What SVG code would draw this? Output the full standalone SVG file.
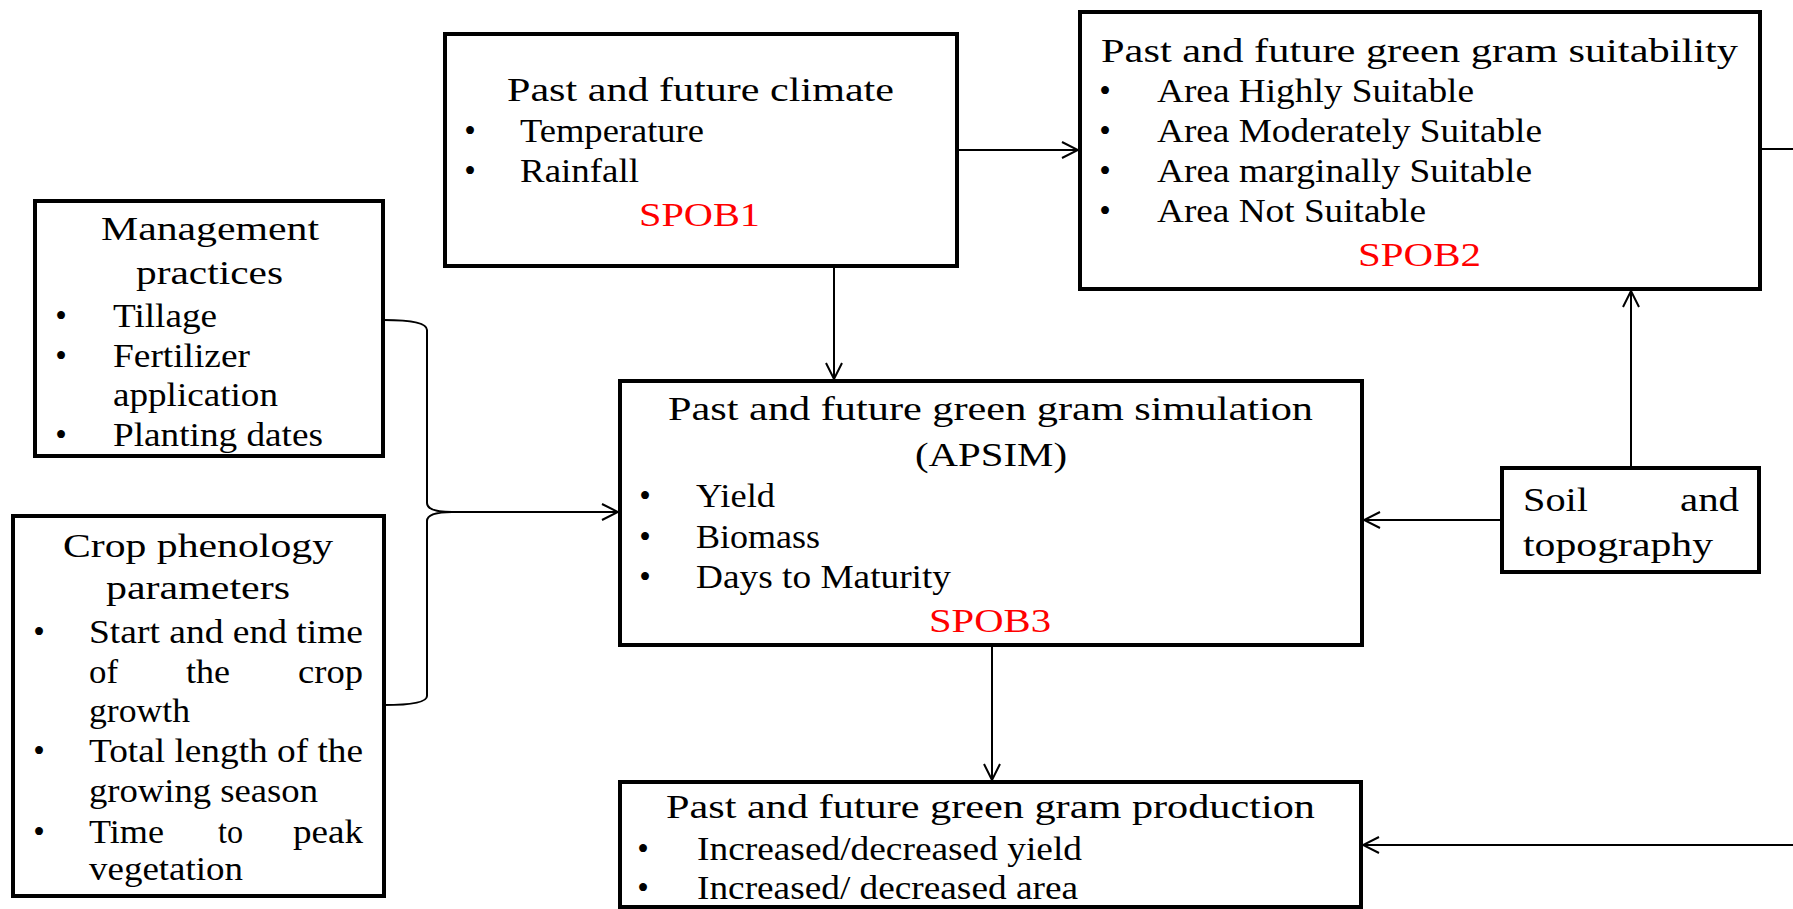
<svg xmlns="http://www.w3.org/2000/svg" width="1793" height="909" viewBox="0 0 1793 909">
<style>
.box{fill:#fff;stroke:#000;stroke-width:4}
.c{fill:none;stroke:#000;stroke-width:2}
text{font-family:"Liberation Serif","Times New Roman",serif;font-size:33px;fill:#000}
.t{font-size:34px}
.r{fill:#f00;font-size:34px}
.b{text-anchor:middle}
.e{text-anchor:end}
</style>
<defs>
<marker id="ah" viewBox="-18 -10 20 20" refX="0" refY="0" markerWidth="20" markerHeight="20" markerUnits="userSpaceOnUse" orient="auto">
<path d="M-16,-8 L0,0 L-16,8" fill="none" stroke="#000" stroke-width="2"/>
</marker>
</defs>
<rect width="1793" height="909" fill="#fff"/>
<g id="connectors">
<path class="c" d="M957,150 L1078,150" marker-end="url(#ah)"/>
<path class="c" d="M834,266 L834,379" marker-end="url(#ah)"/>
<path class="c" d="M384,320 Q427,320 427,330 L427,503 Q427,512 452,512 Q427,512 427,521 L427,696 Q427,705 384,705"/>
<path class="c" d="M440,512 L618,512" marker-end="url(#ah)"/>
<path class="c" d="M1631,468 L1631,291" marker-end="url(#ah)"/>
<path class="c" d="M1502,520 L1364,520" marker-end="url(#ah)"/>
<path class="c" d="M992,645 L992,780" marker-end="url(#ah)"/>
<path class="c" d="M1760,149 L1793,149"/>
<path class="c" d="M1793,845 L1363,845" marker-end="url(#ah)"/>
</g>
<g id="climate">
<rect class="box" x="445" y="34" width="512" height="232"/>
<text class="t" x="507" y="101" textLength="387" lengthAdjust="spacingAndGlyphs">Past and future climate</text>
<text class="b" x="470" y="142">•</text>
<text class="b" x="470" y="182">•</text>
<text x="520" y="142" textLength="184" lengthAdjust="spacingAndGlyphs">Temperature</text>
<text x="520" y="182" textLength="119" lengthAdjust="spacingAndGlyphs">Rainfall</text>
<text class="r" x="639" y="226" textLength="121" lengthAdjust="spacingAndGlyphs">SPOB1</text>
</g>
<g id="suitability">
<rect class="box" x="1080" y="12" width="680" height="277"/>
<text class="t" x="1101" y="62" textLength="637" lengthAdjust="spacingAndGlyphs">Past and future green gram suitability</text>
<text class="b" x="1105" y="102">•</text>
<text class="b" x="1105" y="142">•</text>
<text class="b" x="1105" y="182">•</text>
<text class="b" x="1105" y="222">•</text>
<text x="1157" y="102" textLength="317" lengthAdjust="spacingAndGlyphs">Area Highly Suitable</text>
<text x="1157" y="142" textLength="385" lengthAdjust="spacingAndGlyphs">Area Moderately Suitable</text>
<text x="1157" y="182" textLength="375" lengthAdjust="spacingAndGlyphs">Area marginally Suitable</text>
<text x="1157" y="222" textLength="269" lengthAdjust="spacingAndGlyphs">Area Not Suitable</text>
<text class="r" x="1358" y="266" textLength="123" lengthAdjust="spacingAndGlyphs">SPOB2</text>
</g>
<g id="management">
<rect class="box" x="35" y="201" width="348" height="255"/>
<text class="t" x="101" y="240" textLength="218" lengthAdjust="spacingAndGlyphs">Management</text>
<text class="t" x="136" y="284" textLength="147" lengthAdjust="spacingAndGlyphs">practices</text>
<text class="b" x="61" y="327">•</text>
<text class="b" x="61" y="367">•</text>
<text class="b" x="61" y="446">•</text>
<text x="113" y="327" textLength="104" lengthAdjust="spacingAndGlyphs">Tillage</text>
<text x="113" y="367" textLength="137" lengthAdjust="spacingAndGlyphs">Fertilizer</text>
<text x="113" y="406" textLength="165" lengthAdjust="spacingAndGlyphs">application</text>
<text x="113" y="446" textLength="210" lengthAdjust="spacingAndGlyphs">Planting dates</text>
</g>
<g id="phenology">
<rect class="box" x="13" y="516" width="371" height="380"/>
<text class="t" x="63" y="557" textLength="270" lengthAdjust="spacingAndGlyphs">Crop phenology</text>
<text class="t" x="106" y="599" textLength="184" lengthAdjust="spacingAndGlyphs">parameters</text>
<text class="b" x="39" y="643">•</text>
<text class="b" x="39" y="762">•</text>
<text class="b" x="39" y="843">•</text>
<text x="89" y="643" textLength="274" lengthAdjust="spacingAndGlyphs">Start and end time</text>
<text x="89" y="683" textLength="29" lengthAdjust="spacingAndGlyphs">of</text>
<text x="186" y="683" textLength="44" lengthAdjust="spacingAndGlyphs">the</text>
<text x="298" y="683" textLength="65" lengthAdjust="spacingAndGlyphs">crop</text>
<text x="89" y="722" textLength="101" lengthAdjust="spacingAndGlyphs">growth</text>
<text x="89" y="762" textLength="274" lengthAdjust="spacingAndGlyphs">Total length of the</text>
<text x="89" y="802" textLength="229" lengthAdjust="spacingAndGlyphs">growing season</text>
<text x="89" y="843" textLength="75" lengthAdjust="spacingAndGlyphs">Time</text>
<text x="218" y="843" textLength="25" lengthAdjust="spacingAndGlyphs">to</text>
<text x="293" y="843" textLength="70" lengthAdjust="spacingAndGlyphs">peak</text>
<text x="89" y="880" textLength="154" lengthAdjust="spacingAndGlyphs">vegetation</text>
</g>
<g id="simulation">
<rect class="box" x="620" y="381" width="742" height="264"/>
<text class="t" x="668" y="420" textLength="645" lengthAdjust="spacingAndGlyphs">Past and future green gram simulation</text>
<text class="t" x="915" y="466" textLength="152" lengthAdjust="spacingAndGlyphs">(APSIM)</text>
<text class="b" x="645" y="507">•</text>
<text class="b" x="645" y="548">•</text>
<text class="b" x="645" y="588">•</text>
<text x="696" y="507" textLength="79" lengthAdjust="spacingAndGlyphs">Yield</text>
<text x="696" y="548" textLength="124" lengthAdjust="spacingAndGlyphs">Biomass</text>
<text x="696" y="588" textLength="255" lengthAdjust="spacingAndGlyphs">Days to Maturity</text>
<text class="r" x="929" y="632" textLength="122" lengthAdjust="spacingAndGlyphs">SPOB3</text>
</g>
<g id="soil">
<rect class="box" x="1502" y="468" width="257" height="104"/>
<text class="t" x="1523" y="511" textLength="65" lengthAdjust="spacingAndGlyphs">Soil</text>
<text class="t" x="1680" y="511" textLength="59" lengthAdjust="spacingAndGlyphs">and</text>
<text class="t" x="1523" y="556" textLength="190" lengthAdjust="spacingAndGlyphs">topography</text>
</g>
<g id="production">
<rect class="box" x="620" y="782" width="741" height="125"/>
<text class="t" x="666" y="818" textLength="649" lengthAdjust="spacingAndGlyphs">Past and future green gram production</text>
<text class="b" x="643" y="860">•</text>
<text class="b" x="643" y="899">•</text>
<text x="697" y="860" textLength="385" lengthAdjust="spacingAndGlyphs">Increased/decreased yield</text>
<text x="697" y="899" textLength="381" lengthAdjust="spacingAndGlyphs">Increased/ decreased area</text>
</g>
</svg>
